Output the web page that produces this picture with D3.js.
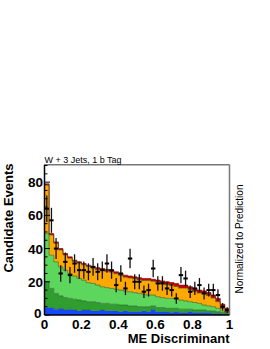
<!DOCTYPE html>
<html>
<head>
<meta charset="utf-8">
<script src="https://cdn.jsdelivr.net/npm/d3@7"></script>
<style>
body { margin: 0; background: #fff; }
text { font-family: "Liberation Sans", Arial, sans-serif; }
</style>
</head>
<body>
<script>
// 40 bins of width 0.025 over the ME discriminant
var binEdges = d3.range(0, 41).map(function (i) { return i / 40; });

// stacked components, bottom to top
var blue = [4.5,4.5,3.5,4,3,3.5,3,2.5,3,3,2.5,2.5,3,2.5,2.5,2.5,2,2.5,2,2,2,2.5,2,3.5,2,2,2,1.5,2,1.5,1.5,2,1.5,1.5,1.5,1.5,1,1,0.8,0.5];
var darkGreen = [15.5,11.5,9.5,7.5,7.5,6.5,6.5,6.5,5.5,5,5.5,5,4,4.5,4,4,4,3.5,3.5,3.5,3,2.5,3,2,2.5,2.5,2,2.5,2,2,2,1.5,1.5,1.5,1.5,1,1.5,1,0.7,0.5];
var lightGreen = [29,20,19,17.5,16.5,15,14,13,12.5,11.5,11,10.5,10,9.5,9.5,9,9,8.5,8.5,8,8,7.5,7,6.5,6.5,6,6,6,5.5,5.5,5,4.5,4.5,4,3,3,2.5,2,1,0.5];
var orange = [29.2,12.2,11.2,10.2,9.2,9.2,8.7,9.2,9.2,9.7,9.2,9.3,9.8,9.8,9.8,9.3,8.8,8.3,8.3,8.3,8.3,8.3,8.8,8.3,8.8,8.8,8.2,7.7,7.7,7.2,7.7,7.2,6.7,6.2,6.7,6.2,5.2,4,1.5,0.3];
var red = [0.8,0.8,0.8,0.8,0.8,0.8,0.8,0.8,0.8,0.8,0.8,1.2,1.2,1.2,1.2,1.2,1.2,1.2,1.2,1.2,1.2,1.2,1.2,1.2,1.2,1.2,1.8,1.8,1.8,1.8,1.8,1.8,1.8,1.8,1.8,1.8,1.8,2,2.5,2.2];

// observed events
var observed = [64,57,40,25,32,24,31,27,27,26,29,26,27,31,27,18,25,16,34,20,20,14,15,28,19,19,16,15,10,24,22,14,16,18,13,15,15,12,5,3];

var yTicks = [0, 20, 40, 60, 80];
var xTicks = [0, 0.2, 0.4, 0.6, 0.8, 1];
var xTickLabels = ["0", "0.2", "0.4", "0.6", "0.8", "1"];

var WIDTH = 270, HEIGHT = 349;
var LEFT = 44.5, RIGHT = 229.5, TOP = 164.7, BOTTOM = 315;

var xScale = d3.scaleLinear().domain([0, 1]).range([LEFT, RIGHT]);
var yScale = d3.scaleLinear().domain([0, 90.5]).range([BOTTOM, TOP]);

var keys = ["blue", "darkGreen", "lightGreen", "orange", "red"];
var colors = { blue: "#1448ff", darkGreen: "#2f9e2f", lightGreen: "#5cd65c", orange: "#ffa800", red: "#d10000" };
var src = { blue: blue, darkGreen: darkGreen, lightGreen: lightGreen, orange: orange, red: red };

var table = observed.map(function (d, i) {
    var row = { bin: i };
    keys.forEach(function (k) { row[k] = src[k][i]; });
    return row;
});

var stacked = d3.stack().keys(keys)(table);

// turn each bin into two points so the area is drawn as steps
var stepPoints = function (layer) {
    var pts = [];
    layer.forEach(function (d, i) {
        pts.push({ x: binEdges[i], y0: d[0], y1: d[1] });
        pts.push({ x: binEdges[i + 1], y0: d[0], y1: d[1] });
    });
    return pts;
};

var area = d3.area()
    .x(function (d) { return xScale(d.x); })
    .y0(function (d) { return yScale(d.y0); })
    .y1(function (d) { return yScale(d.y1); });

var topLine = d3.line()
    .x(function (d) { return xScale(d.x); })
    .y(function (d) { return yScale(d.y1); });

var svg = d3.select("body").append("svg")
    .attr("width", WIDTH)
    .attr("height", HEIGHT);

var g = svg.append("g");

stacked.forEach(function (layer) {
    var pts = stepPoints(layer);
    g.append("path")
        .attr("d", area(pts))
        .attr("fill", colors[layer.key]);
});
stacked.forEach(function (layer) {
    var pts = stepPoints(layer);
    g.append("path")
        .attr("d", topLine(pts))
        .attr("fill", "none")
        .attr("stroke", layer.key == "red" ? "#6a0000" : "#2a5a2a")
        .attr("stroke-opacity", layer.key == "blue" ? 0.6 : 0.75)
        .attr("stroke-width", 0.8);
});

// data points with sqrt(N) errors
var pts = g.append("g").selectAll("g")
    .data(observed)
    .enter()
    .append("g");

pts.append("line")
    .attr("x1", function (d, i) { return xScale((binEdges[i] + binEdges[i + 1]) / 2); })
    .attr("x2", function (d, i) { return xScale((binEdges[i] + binEdges[i + 1]) / 2); })
    .attr("y1", function (d) { return yScale(d + Math.sqrt(d)); })
    .attr("y2", function (d) { return yScale(Math.max(0, d - Math.sqrt(d))); })
    .attr("stroke", "#111")
    .attr("stroke-width", 1.3);

pts.append("line")
    .attr("x1", function (d, i) { return xScale((binEdges[i] + binEdges[i + 1]) / 2) - 2.2; })
    .attr("x2", function (d, i) { return xScale((binEdges[i] + binEdges[i + 1]) / 2) + 2.2; })
    .attr("y1", function (d) { return yScale(d); })
    .attr("y2", function (d) { return yScale(d); })
    .attr("stroke", "#000")
    .attr("stroke-width", 2);

// frame
svg.append("line").attr("x1", LEFT).attr("x2", RIGHT).attr("y1", TOP).attr("y2", TOP)
    .attr("stroke", "#777").attr("stroke-width", 1.5);
svg.append("line").attr("x1", RIGHT).attr("x2", RIGHT).attr("y1", TOP).attr("y2", BOTTOM)
    .attr("stroke", "#777").attr("stroke-width", 1.5);
svg.append("line").attr("x1", LEFT).attr("x2", LEFT).attr("y1", TOP).attr("y2", BOTTOM)
    .attr("stroke", "#000").attr("stroke-width", 1.5);
svg.append("line").attr("x1", LEFT).attr("x2", RIGHT).attr("y1", BOTTOM).attr("y2", BOTTOM)
    .attr("stroke", "#000").attr("stroke-width", 1.5);

// y ticks (inside)
svg.append("g").selectAll("line")
    .data(d3.range(0, 91, 5))
    .enter().append("line")
    .attr("x1", LEFT)
    .attr("x2", function (d) { return LEFT + (d % 20 == 0 ? 5.5 : 3); })
    .attr("y1", function (d) { return yScale(d); })
    .attr("y2", function (d) { return yScale(d); })
    .attr("stroke", "#000")
    .attr("stroke-width", 1);

svg.append("g").selectAll("text")
    .data(yTicks)
    .enter().append("text")
    .attr("x", function (d) { return d == 0 ? LEFT - 3 : LEFT - 1.5; })
    .attr("y", function (d) { return yScale(d) + (d == 0 ? 3 : 5); })
    .attr("text-anchor", "end")
    .attr("font-size", "13.5px")
    .attr("font-weight", "bold")
    .text(function (d) { return d; });

svg.append("g").selectAll("text")
    .data(xTicks)
    .enter().append("text")
    .attr("x", function (d) { return xScale(d); })
    .attr("y", BOTTOM + 14)
    .attr("text-anchor", "middle")
    .attr("font-size", "13.5px")
    .attr("font-weight", "bold")
    .text(function (d, i) { return xTickLabels[i]; });

svg.append("text")
    .attr("x", RIGHT)
    .attr("y", 343)
    .attr("text-anchor", "end")
    .attr("font-size", "13px")
    .attr("font-weight", "bold")
    .text("ME Discriminant");

svg.append("text")
    .attr("transform", "translate(12.7,218) rotate(-90)")
    .attr("text-anchor", "middle")
    .attr("font-size", "13px")
    .attr("font-weight", "bold")
    .text("Candidate Events");

svg.append("text")
    .attr("x", LEFT)
    .attr("y", 162.5)
    .attr("font-size", "9px")
    .text("W + 3 Jets, 1 b Tag");

svg.append("text")
    .attr("transform", "translate(243,239) rotate(-90)")
    .attr("text-anchor", "middle")
    .attr("font-size", "10px")
    .text("Normalized to Prediction");
</script>
</body>
</html>
